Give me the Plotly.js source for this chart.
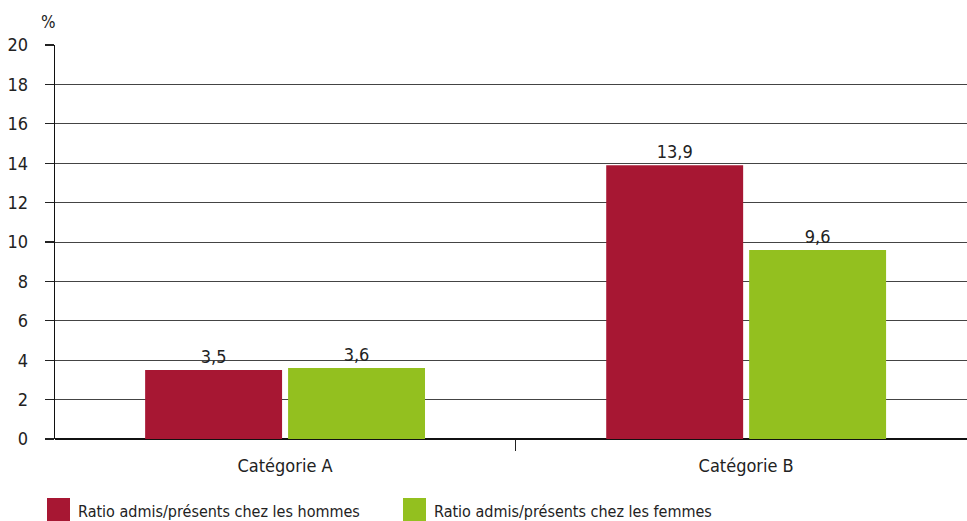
<!DOCTYPE html>
<html><head><meta charset="utf-8">
<script src="https://cdn.plot.ly/plotly-3.0.1.min.js"></script>
<style>html,body{margin:0;padding:0;background:#fff}#c{width:967px;height:521px}</style>
</head><body><div id="c"></div>
<script>
const categories = ["Catégorie A", "Catégorie B"];
const seriesNames = ["Ratio admis/présents chez les hommes", "Ratio admis/présents chez les femmes"];
const hommes = [3.5, 13.9];
const femmes = [3.6, 9.6];
const yTicks = [0, 2, 4, 6, 8, 10, 12, 14, 16, 18, 20];

const colors = ["#A71733", "#93C01F"];
const FONT = "'DejaVu Sans Condensed', 'Liberation Sans Narrow', 'Roboto', sans-serif";
const fmt = v => v.toFixed(1).replace(".", ",");

const series = [hommes, femmes];
const traces = series.map((vals, i) => ({
  type: "bar", x: categories, y: vals, name: seriesNames[i],
  marker: {color: colors[i]},
  text: vals.map(fmt), textposition: "outside", cliponaxis: false,
  textfont: {family: FONT, size: 18, color: "#222"},
  hoverinfo: "skip"
}));

// manual legend with large squares
const legX = [47, 403];
const shapes = [], annotations = [];
seriesNames.forEach((n, i) => {
  shapes.push({type: "rect", xref: "paper", yref: "paper",
    x0: (legX[i] - 55) / 912, x1: (legX[i] + 23 - 55) / 912,
    y0: -(498 - 439) / 394, y1: -(521 - 439) / 394,
    fillcolor: colors[i], line: {width: 0}});
  annotations.push({xref: "paper", yref: "paper", x: (legX[i] + 29 - 55) / 912,
    y: -(511 - 439) / 394, xanchor: "left", yanchor: "middle", showarrow: false,
    text: n, font: {family: FONT, size: 16, color: "#222"}});
});
annotations.push({xref: "paper", yref: "paper", x: (48 - 55) / 912, y: 1 + (45 - 22) / 394,
  xanchor: "center", yanchor: "middle", showarrow: false, text: "%",
  font: {family: FONT, size: 17, color: "#222"}});

const layout = {
  width: 967, height: 521,
  margin: {l: 55, r: 0, t: 45, b: 82},
  paper_bgcolor: "#fff", plot_bgcolor: "#fff",
  font: {family: FONT, size: 18, color: "#222"},
  showlegend: false,
  barmode: "group", bargap: 0.38, bargroupgap: 0.042,
  xaxis: {type: "category", range: [-0.499, 1.479], tickson: "boundaries",
    ticks: "outside", ticklen: 11, tickcolor: "#222", tickwidth: 1.3,
    ticklabelstandoff: 14,
    showline: false, showgrid: false, zeroline: false,
    tickfont: {family: FONT, size: 18, color: "#222"}},
  yaxis: {range: [0, 20], tickvals: yTicks, ticktext: yTicks.map(String),
    ticks: "outside", ticklen: 9, tickcolor: "#222", tickwidth: 1.3,
    ticklabelstandoff: 13,
    showline: true, linecolor: "#111", linewidth: 1.3,
    showgrid: true, gridcolor: "#444", gridwidth: 1,
    zeroline: true, zerolinecolor: "#111", zerolinewidth: 1.3,
    tickfont: {family: FONT, size: 18, color: "#222"}},
  shapes: shapes, annotations: annotations
};
Plotly.newPlot("c", traces, layout, {displayModeBar: false, staticPlot: true});
</script></body></html>
